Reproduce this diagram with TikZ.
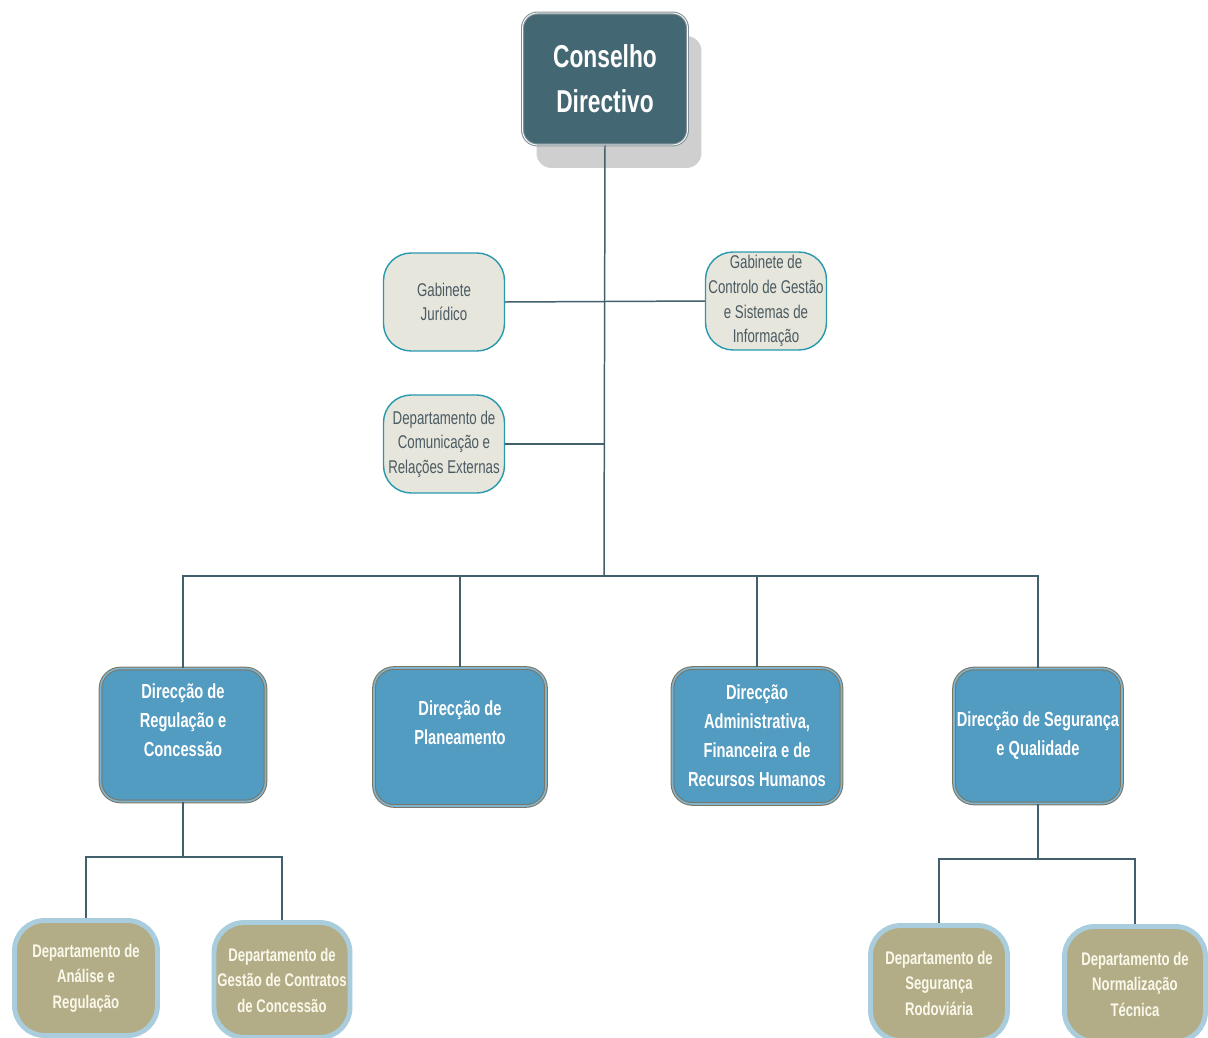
\documentclass[tikz,border=0pt]{standalone}
\usepackage{fontspec}
\setmainfont[FakeStretch=0.72]{Liberation Sans}
\usetikzlibrary{shadows}
\definecolor{chieffill}{RGB}{68,103,116}
\definecolor{chiefline}{RGB}{130,145,150}
\definecolor{shadowgray}{RGB}{207,207,207}
\definecolor{cabfill}{RGB}{230,230,220}
\definecolor{cabline}{RGB}{40,152,172}
\definecolor{cabtext}{RGB}{75,90,98}
\definecolor{dirfill}{RGB}{82,155,193}
\definecolor{dirline}{RGB}{125,118,98}
\definecolor{depfill}{RGB}{179,173,135}
\definecolor{depline}{RGB}{170,205,222}
\definecolor{depttext}{RGB}{250,248,235}
\definecolor{linkcol}{RGB}{66,96,108}

\begin{document}
\begin{tikzpicture}[x=0.02cm,y=-0.02cm,
  chief/.style={rectangle,rounded corners=0.3cm,fill=chieffill,draw=chiefline,double=white,double distance=0.5pt,line width=0.6pt,text=white,font=\fontsize{18}{25.6}\selectfont\bfseries,align=center,minimum width=3.3cm,minimum height=2.64cm,drop shadow={shadow xshift=0.28cm,shadow yshift=-0.46cm,fill=shadowgray,opacity=1}},
  cabinet/.style={rectangle,rounded corners=0.55cm,fill=cabfill,draw=cabline,line width=0.8pt,text=cabtext,font=\fontsize{10.5}{14}\selectfont,align=center,inner sep=0pt,minimum width=2.42cm,minimum height=1.96cm},
  direction/.style={rectangle,rounded corners=0.4cm,fill=dirfill,draw=dirline,double=dirfill!75!white,double distance=0.9pt,line width=0.6pt,text=white,font=\fontsize{11.6}{16.5}\selectfont\bfseries,align=center,inner sep=0pt},
  dept/.style={rectangle,rounded corners=0.6cm,fill=depfill,draw=depline,line width=2.8pt,text=depttext,font=\fontsize{10.4}{14.5}\selectfont\bfseries,align=center,inner sep=0pt,minimum height=2.3cm},
  link/.style={draw=linkcol,line width=0.85pt}]
\clip (0,0) rectangle (1208,1038);

% top
\node (cd) at (605,79) [chief] {Conselho\\Directivo};

% gabinetes
\node (gj) at (444,302) [cabinet] {Gabinete\\Jurídico};
\node (gc) at (766,301) [cabinet] {Gabinete de\\Controlo de Gestão\\e Sistemas de\\Informação};
\node (dc) at (444,444) [cabinet] {Departamento de\\Comunicação e\\Relações Externas};

% direcções
\node (dreg) at (183,735) [direction,minimum width=3.3cm,minimum height=2.66cm] {Direcção de\\Regulação e\\Concessão\\~};
\node (dplan) at (460,737) [direction,minimum width=3.44cm,minimum height=2.76cm] {Direcção de\\Planeamento\\~};
\node (dadm) at (757,736) [direction,minimum width=3.38cm,minimum height=2.72cm] {Direcção\\Administrativa,\\Financeira e de\\Recursos Humanos};
\node (dseg) at (1038,736) [direction,minimum width=3.36cm,minimum height=2.7cm] {Direcção de Segurança\\e Qualidade};

% departamentos
\node (dana) at (86,978) [dept,minimum width=2.86cm] {Departamento de\\Análise e\\Regulação};
\node (dges) at (282,980) [dept,minimum width=2.72cm] {Departamento de\\Gestão de Contratos\\de Concessão};
\node (dsr) at (939,983) [dept,minimum width=2.74cm] {Departamento de\\Segurança\\Rodoviária};
\node (dnt) at (1135,984) [dept,minimum width=2.82cm] {Departamento de\\Normalização\\Técnica};

\coordinate (bus) at (604,576);
\coordinate (regbus) at (183,857);
\coordinate (segbus) at (1038,859);

% ligações
\draw[link] (cd.south) -- (bus);
\draw[link] (gj.east) -- (gc.west);
\draw[link] (dc.east) -- (dc.east -| bus);
\draw[link] (dreg.north) |- (bus) -| (dseg.north);
\draw[link] (dplan.north) -- (dplan.north |- bus);
\draw[link] (dadm.north) -- (dadm.north |- bus);
\draw[link] (dreg.south) -- (regbus);
\draw[link] (dana.north) |- (regbus) -| (dges.north);
\draw[link] (dseg.south) -- (segbus);
\draw[link] (dsr.north) |- (segbus) -| (dnt.north);
\end{tikzpicture}
\end{document}
